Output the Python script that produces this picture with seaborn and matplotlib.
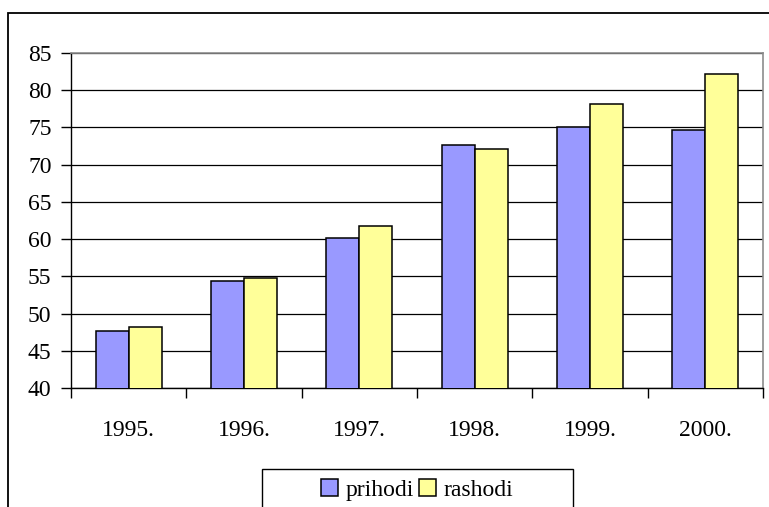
import numpy as np
import pandas as pd
import matplotlib
matplotlib.use("Agg")
import matplotlib.pyplot as plt
from matplotlib.patches import Rectangle
from matplotlib.ticker import FixedLocator
import seaborn as sns

# data
years = ["1995.", "1996.", "1997.", "1998.", "1999.", "2000."]
prihodi = [47.6, 54.4, 60.2, 72.7, 75.0, 74.6]
rashodi = [48.2, 54.8, 61.7, 72.1, 78.1, 82.2]
series = ["prihodi", "rashodi"]
colors = {"prihodi": "#9999FF", "rashodi": "#FFFF99"}

df = pd.DataFrame({
    "year": years * 2,
    "series": ["prihodi"] * len(years) + ["rashodi"] * len(years),
    "value": prihodi + rashodi,
})

sns.set_style("white")
plt.rcParams["font.family"] = ["Liberation Serif", "DejaVu Serif"]
plt.rcParams["text.color"] = "black"
plt.rcParams["xtick.color"] = "black"
plt.rcParams["ytick.color"] = "black"
fs = 17

W, H = 769, 507
fig = plt.figure(figsize=(W / 100, H / 100), dpi=100)
ax = fig.add_axes([71 / W, 1 - 388 / H, (763 - 71) / W, (388 - 53) / H])

sns.barplot(data=df, x="year", y="value", hue="series", hue_order=series,
            palette=colors, width=0.57, edgecolor="black", linewidth=1.1,
            saturation=1, ax=ax, zorder=3)

ax.set_ylim(40, 85)
ax.set_xlim(-0.5, len(years) - 0.5)
ax.set_yticks(np.arange(40, 86, 5))
ax.yaxis.grid(True, color="black", linewidth=0.9, zorder=0)
ax.set_axisbelow(True)
ax.set_xlabel("")
ax.set_ylabel("")

# ticks: y to the left, x ticks at category boundaries
ax.tick_params(axis="y", which="major", direction="out", length=7, width=1,
               color="black", labelcolor="black", pad=7, labelsize=fs, left=True)
ax.tick_params(axis="x", which="major", length=0, pad=23, labelsize=fs,
               labelcolor="black")
ax.xaxis.set_minor_locator(FixedLocator(np.arange(-0.5, len(years), 1.0)))
ax.tick_params(axis="x", which="minor", direction="out", length=7, width=1,
               color="black", bottom=True)

for side in ["left", "bottom"]:
    ax.spines[side].set_color("black")
    ax.spines[side].set_linewidth(1)
for side in ["top", "right"]:
    ax.spines[side].set_color("#8c8c8c")
    ax.spines[side].set_linewidth(1.2)
    ax.spines[side].set_visible(True)

# legend with its own wide box
handles, labels = ax.get_legend_handles_labels()
ax.get_legend().remove()
leg = fig.legend(handles, labels, loc="center", ncol=2, frameon=False,
                 bbox_to_anchor=(417 / W, 1 - 490 / H), fontsize=fs,
                 handlelength=0.75, handleheight=0.75, handletextpad=0.3,
                 columnspacing=0.2, borderaxespad=0, labelcolor="black")
fig.patches.append(Rectangle((262 / W, -0.05), (573 - 262) / W, 0.05 + (507 - 469) / H,
                             transform=fig.transFigure, fill=False,
                             edgecolor="black", linewidth=1))

# outer chart border (runs off the right and bottom edges)
fig.patches.append(Rectangle((8 / W, -0.1), 1.2, 0.1 + (507 - 13) / H,
                             transform=fig.transFigure, fill=False,
                             edgecolor="black", linewidth=1.3))

fig.savefig("out.png", dpi=100)
